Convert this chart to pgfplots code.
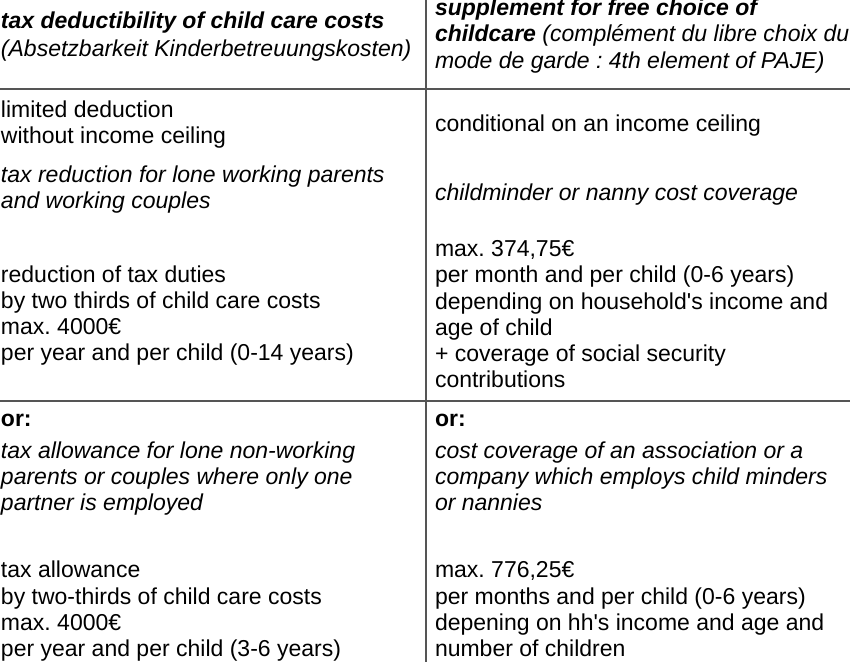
\documentclass[border=0pt]{standalone}
\usepackage{fontspec}
\setmainfont{Liberation Sans}
\usepackage{pgfplots}
\pgfplotsset{compat=1.18}
\definecolor{rule}{RGB}{85,85,85}
\newcommand{\tf}{\fontsize{23}{26.3}\selectfont\frenchspacing}
\tikzset{tx/.style={anchor=base west, inner sep=0pt, outer sep=0pt, font=\tf}}
\begin{document}
\begin{tikzpicture}
\begin{axis}[
  width=850pt, height=662pt, scale only axis,
  xmin=0, xmax=850, ymin=0, ymax=662, y dir=reverse,
  hide axis, clip=false,
]
% table rules
\addplot[rule, line width=2pt, forget plot] coordinates {(0,88.5) (850,88.5)};
\addplot[rule, line width=2pt, forget plot] coordinates {(0,401) (850,401)};
\addplot[rule, line width=2pt, forget plot] coordinates {(426,0) (426,662)};

% left column
\node[tx] at (axis cs:1,28.5) {\bfseries\itshape tax deductibility of child care costs};
\node[tx] at (axis cs:1,56) {\itshape (Absetzbarkeit Kinderbetreuungskosten)};
\node[tx] at (axis cs:1,117) {limited deduction};
\node[tx] at (axis cs:1,143.5) {without income ceiling};
\node[tx] at (axis cs:1,182) {\itshape tax reduction for lone working parents};
\node[tx] at (axis cs:1,208) {\itshape and working couples};
\node[tx] at (axis cs:1,282) {reduction of tax duties};
\node[tx] at (axis cs:1,308) {by two thirds of child care costs};
\node[tx] at (axis cs:1,334.5) {max. 4000€};
\node[tx] at (axis cs:1,360.5) {per year and per child (0-14 years)};
\node[tx] at (axis cs:1,426) {\bfseries or:};
\node[tx] at (axis cs:1,458) {\itshape tax allowance for lone non-working};
\node[tx] at (axis cs:1,484) {\itshape parents or couples where only one};
\node[tx] at (axis cs:1,510) {\itshape partner is employed};
\node[tx] at (axis cs:1,577.5) {tax allowance};
\node[tx] at (axis cs:1,604) {by two-thirds of child care costs};
\node[tx] at (axis cs:1,630) {max. 4000€};
\node[tx] at (axis cs:1,656.5) {per year and per child (3-6 years)};

% right column
\node[tx] at (axis cs:435,15) {\bfseries\itshape supplement for free choice of};
\node[tx] at (axis cs:435,41.5) {{\bfseries\itshape childcare} \itshape (complément du libre choix du};
\node[tx] at (axis cs:435,68) {\itshape mode de garde : 4th element of PAJE)};
\node[tx] at (axis cs:435,131.5) {conditional on an income ceiling};
\node[tx] at (axis cs:435,200) {\itshape childminder or nanny cost coverage};
\node[tx] at (axis cs:435,256) {max. 374,75€};
\node[tx] at (axis cs:435,282.5) {per month and per child (0-6 years)};
\node[tx] at (axis cs:435,309) {depending on household\textquotesingle s income and};
\node[tx] at (axis cs:435,335) {age of child};
\node[tx] at (axis cs:435,361) {+ coverage of social security};
\node[tx] at (axis cs:435,387) {contributions};
\node[tx] at (axis cs:435,426) {\bfseries or:};
\node[tx] at (axis cs:435,458) {\itshape cost coverage of an association or a};
\node[tx] at (axis cs:435,484) {\itshape company which employs child minders};
\node[tx] at (axis cs:435,510) {\itshape or nannies};
\node[tx] at (axis cs:435,577.5) {max. 776,25€};
\node[tx] at (axis cs:435,604) {per months and per child (0-6 years)};
\node[tx] at (axis cs:435,630) {depening on hh\textquotesingle s income and age and};
\node[tx] at (axis cs:435,656.5) {number of children};
\end{axis}
\pgfresetboundingbox
\path (current axis.south west) rectangle (current axis.north east);
\end{tikzpicture}
\end{document}
